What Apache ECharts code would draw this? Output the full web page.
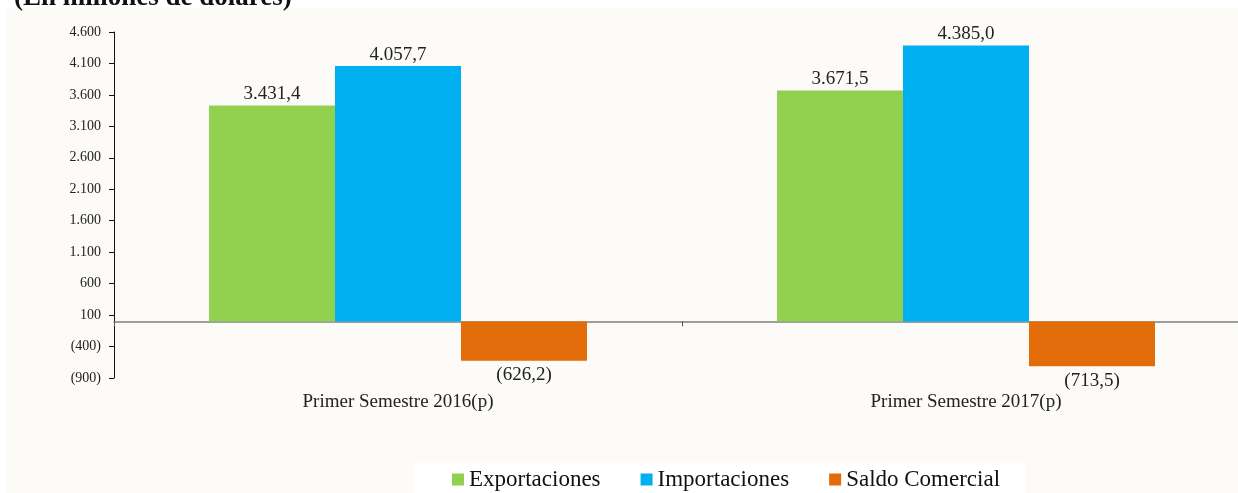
<!DOCTYPE html>
<html>
<head>
<meta charset="utf-8">
<script src="https://cdn.jsdelivr.net/npm/echarts@6/dist/echarts.min.js"></script>
<style>
html,body{margin:0;padding:0;background:#ffffff;}
#c{width:1238px;height:493px;}
</style>
</head>
<body>
<div id="c"></div>
<script>
var categories = ['Primer Semestre 2016(p)', 'Primer Semestre 2017(p)'];
var exportaciones = [3431.4, 3671.5];
var importaciones = [4057.7, 4385.0];
var saldoComercial = [-626.2, -713.5];
var seriesNames = ['Exportaciones', 'Importaciones', 'Saldo Comercial'];
var yMin = -900, yMax = 4600, yInterval = 500;

function fmtNum(v, dec) {
  var neg = v < 0;
  var a = Math.abs(v);
  var s = a.toFixed(dec);
  var parts = s.split('.');
  var ip = parts[0].replace(/\B(?=(\d{3})+(?!\d))/g, '.');
  var out = parts.length > 1 ? ip + ',' + parts[1] : ip;
  return neg ? '(' + out + ')' : out;
}

var FONT = '"Liberation Serif", "DejaVu Serif", serif';
var chart = echarts.init(document.getElementById('c'));
var labelStyle = {
  show: true, fontFamily: FONT, fontSize: 19, color: '#222',
  formatter: function (p) { return fmtNum(p.value, 1); }
};
chart.setOption({
  backgroundColor: '#ffffff',
  animation: false,
  graphic: [
    { type: 'rect', z: -10, silent: true, shape: { x: 7, y: 8, width: 1240, height: 500 }, style: { fill: '#fcfbf8' } },
    { type: 'rect', z: -9, silent: true, shape: { x: 414, y: 463, width: 611, height: 40 }, style: { fill: '#ffffff' } },
    { type: 'text', left: 14, top: -15, style: { text: '(En millones de dólares)', font: 'bold 27px "Liberation Serif", serif', fill: '#111' } }
  ],
  grid: { left: 114, right: -12, top: 32, bottom: 115, containLabel: false, outerBoundsMode: 'none' },
  legend: {
    data: seriesNames,
    left: 447, top: 463,
    padding: [5, 0, 5, 5],
    itemWidth: 12, itemHeight: 12, itemGap: 40,
    icon: 'rect',
    textStyle: { fontFamily: FONT, fontSize: 23, color: '#111' }
  },
  xAxis: [
    {
      type: 'category', data: categories, position: 'bottom',
      axisLine: { show: false, onZero: false }, axisTick: { show: false },
      axisLabel: { fontFamily: FONT, fontSize: 19, color: '#222', margin: 15 }
    },
    {
      type: 'category', data: categories, position: 'bottom',
      axisLine: { show: true, onZero: true, lineStyle: { color: '#7f7f7f', width: 1.5 } },
      axisTick: { show: true, length: 5, lineStyle: { color: '#555' } },
      axisLabel: { show: false }
    }
  ],
  yAxis: {
    type: 'value', min: yMin, max: yMax, interval: yInterval,
    axisLine: { show: true, lineStyle: { color: '#111', width: 1 } },
    axisTick: { show: true, length: 5, lineStyle: { color: '#111' } },
    splitLine: { show: false },
    axisLabel: {
      fontFamily: FONT, fontSize: 14, color: '#222', margin: 13,
      formatter: function (v) { return fmtNum(v, 0); }
    }
  },
  series: [
    { name: seriesNames[0], type: 'bar', data: exportaciones, barWidth: 126, barGap: '0%',
      itemStyle: { color: '#92d050' }, label: Object.assign({ position: 'top', distance: 2 }, labelStyle) },
    { name: seriesNames[1], type: 'bar', data: importaciones, barWidth: 126, barGap: '0%',
      itemStyle: { color: '#00b0f0' }, label: Object.assign({ position: 'top', distance: 2 }, labelStyle) },
    { name: seriesNames[2], type: 'bar', data: saldoComercial, barWidth: 126, barGap: '0%',
      itemStyle: { color: '#e36c0a' }, label: Object.assign({ position: 'bottom', distance: 5 }, labelStyle) }
  ]
});
</script>
</body>
</html>
